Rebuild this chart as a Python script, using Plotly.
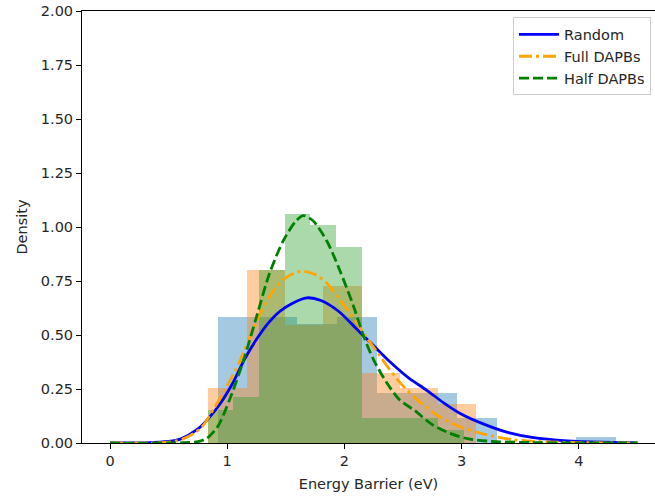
import plotly.graph_objects as go

# ---------------- data ----------------
blue_edges = [0.919, 1.259, 1.599, 1.939, 2.279, 2.619, 2.959, 3.299, 3.639, 3.979, 4.319]
blue_heights = [0.584, 0.584, 0.55, 0.584, 0.23, 0.23, 0.115, 0.0, 0.0, 0.026]

orange_edges = [0.84, 1.1665, 1.493, 1.8195, 2.146, 2.4725, 2.799, 3.1255, 3.452, 3.7785, 4.105]
orange_heights = [0.254, 0.80, 0.546, 0.726, 0.323, 0.254, 0.18, 0.0, 0.0, 0.0]

green_edges = [0.835, 1.0535, 1.272, 1.4905, 1.709, 1.9275, 2.146, 2.3645, 2.583, 2.8015, 3.02]
green_heights = [0.154, 0.215, 0.80, 1.06, 1.01, 0.907, 0.115, 0.115, 0.115, 0.058]

random_x = [0, 0.3, 0.5, 0.6, 0.75, 0.85, 0.95, 1.05, 1.15, 1.25, 1.35, 1.45, 1.55, 1.68, 1.8,
            1.95, 2.1, 2.25, 2.4, 2.55, 2.7, 2.85, 3.0, 3.2, 3.4, 3.6, 3.9, 4.2, 4.5]
random_y = [0, 0.001, 0.007, 0.018, 0.065, 0.12, 0.19, 0.28, 0.39, 0.48, 0.555, 0.61, 0.645, 0.672, 0.66,
            0.61, 0.53, 0.45, 0.37, 0.30, 0.245, 0.185, 0.133, 0.085, 0.048, 0.026, 0.01, 0.004, 0.002]

full_x = [0, 0.4, 0.55, 0.65, 0.78, 0.88, 0.98, 1.1, 1.2, 1.3, 1.4, 1.5, 1.63, 1.75, 1.85, 1.96,
          2.1, 2.2, 2.3, 2.45, 2.6, 2.8, 3.0, 3.2, 3.45, 3.7, 4.0, 4.5]
full_y = [0, 0.001, 0.008, 0.025, 0.072, 0.154, 0.246, 0.37, 0.50, 0.62, 0.71, 0.765, 0.795, 0.78, 0.74, 0.665,
          0.56, 0.48, 0.405, 0.295, 0.21, 0.125, 0.072, 0.04, 0.015, 0.006, 0.002, 0.0]

half_x = [0, 0.6, 0.75, 0.83, 0.92, 1.02, 1.14, 1.25, 1.36, 1.48, 1.59, 1.65, 1.73, 1.85, 1.96,
          2.08, 2.16, 2.25, 2.36, 2.47, 2.6, 2.75, 2.9, 3.05, 3.25, 3.6, 4.5]
half_y = [0, 0.001, 0.006, 0.023, 0.077, 0.20, 0.384, 0.584, 0.784, 0.938, 1.03, 1.053, 1.03, 0.935, 0.80,
          0.63, 0.50, 0.384, 0.28, 0.20, 0.15, 0.085, 0.045, 0.02, 0.008, 0.002, 0.0]

y_ticks = [0, 0.25, 0.5, 0.75, 1.0, 1.25, 1.5, 1.75, 2.0]
x_ticks = [0, 1, 2, 3, 4]


def bars(edges, heights, color):
    centers = [(a + b) / 2 for a, b in zip(edges[:-1], edges[1:])]
    widths = [b - a for a, b in zip(edges[:-1], edges[1:])]
    return go.Bar(x=centers, y=heights, width=widths, marker=dict(color=color, line=dict(width=0)),
                  showlegend=False, hoverinfo="skip")


fig = go.Figure()
fig.add_trace(bars(blue_edges, blue_heights, "rgba(31,119,180,0.4)"))
fig.add_trace(bars(orange_edges, orange_heights, "rgba(255,127,14,0.4)"))
fig.add_trace(bars(green_edges, green_heights, "rgba(44,160,44,0.4)"))

fig.add_trace(go.Scatter(x=random_x, y=random_y, mode="lines", name="Random",
                         line=dict(color="blue", width=2.8, shape="spline", smoothing=0.8)))
fig.add_trace(go.Scatter(x=full_x, y=full_y, mode="lines", name="Full DAPBs",
                         line=dict(color="orange", width=2.8, dash="13px,4px,3px,4px",
                                   shape="spline", smoothing=0.8)))
fig.add_trace(go.Scatter(x=half_x, y=half_y, mode="lines", name="Half DAPBs",
                         line=dict(color="green", width=2.8, dash="10px,4px",
                                   shape="spline", smoothing=0.8)))

font = dict(family="DejaVu Sans", size=14.5, color="#262626")
fig.update_layout(
    width=655, height=499,
    margin=dict(l=82, r=0, t=11, b=56),
    paper_bgcolor="white", plot_bgcolor="white",
    barmode="overlay", bargap=0,
    font=font,
    legend=dict(x=0.993, y=0.985, xanchor="right", yanchor="top",
                bgcolor="rgba(255,255,255,0.8)", bordercolor="#cccccc", borderwidth=1,
                font=dict(family="DejaVu Sans", size=14.5, color="#262626"),
                itemwidth=40, tracegroupgap=2),
    xaxis=dict(range=[-0.239, 4.65], tickvals=x_ticks, ticktext=[str(v) for v in x_ticks],
               showgrid=False, zeroline=False, showline=True, linecolor="black", linewidth=1,
               mirror=True, ticks="outside", ticklen=5, tickcolor="black",
               tickfont=font,
               title=dict(text="Energy Barrier (eV)", standoff=10, font=font)),
    yaxis=dict(range=[0, 2.0], tickvals=y_ticks, ticktext=[f"{v:.2f}" for v in y_ticks],
               showgrid=False, zeroline=False, showline=True, linecolor="black", linewidth=1,
               ticks="outside", ticklen=5, tickcolor="black",
               tickfont=font,
               title=dict(text="Density", standoff=9, font=font)),
)

fig.write_html("out.html")
